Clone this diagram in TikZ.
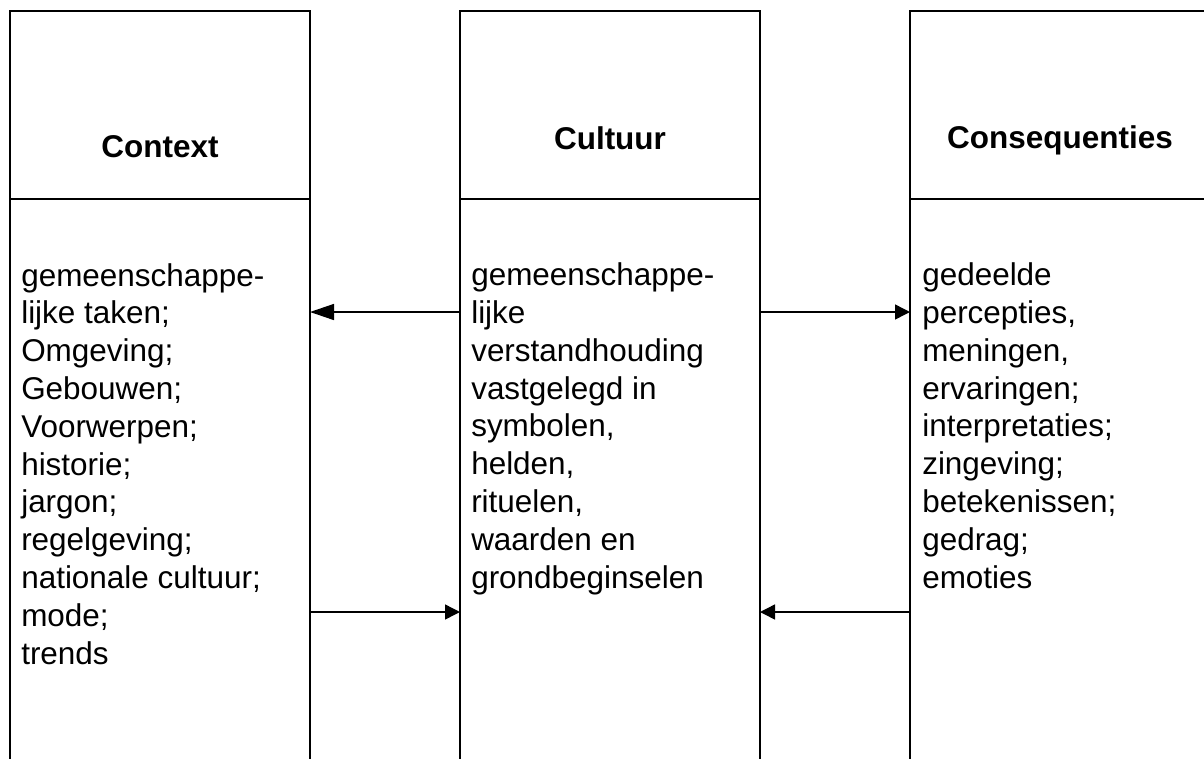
\documentclass[tikz,border=0pt]{standalone}
\usepackage{fontspec}
\setmainfont{Liberation Sans}
\usetikzlibrary{arrows.meta,positioning}
\tikzset{
  headbox/.style ={rectangle, draw, line width=1.1pt, minimum width=225pt,
                   minimum height=141pt, inner sep=0pt, outer sep=0pt},
  bodybox/.style ={rectangle, draw, line width=1.1pt, minimum width=225pt,
                   minimum height=450pt, inner sep=0pt, outer sep=0pt},
  coltitle/.style={font=\fontsize{23.6}{28.35}\selectfont\bfseries, anchor=base, inner sep=0pt},
  itemlist/.style={font=\fontsize{23.6}{28.35}\selectfont, align=left, anchor=base west,
                   inner sep=0pt},
  flow/.style    ={-{Triangle[length=11.25pt, width=11.25pt]}, line width=1.1pt},
  flowbig/.style ={-{Triangle[length=18pt, width=12pt]}, line width=1.1pt}
}

\begin{document}
\begin{tikzpicture}[x=0.75pt, y=-0.75pt]
\clip (0,0) rectangle (1204,758);
% column heads
\node[headbox, anchor=north west] (ctxhead) at (10,11) {};
\node[headbox, right=112.5pt of ctxhead] (culthead) {};
\node[headbox, right=112.5pt of culthead] (conshead) {};
% column bodies, open at the bottom
\foreach \col in {ctx,cult,cons}{
  \node[bodybox, anchor=north west] (\col body) at (\col head.south west) {};
}
\node[coltitle] (ctxtitle) at (160,157) {Context};
\node[coltitle] (culttitle) at (610,149) {Cultuur};
\node[coltitle] (constitle) at (1060,148) {Consequenties};
% lists, placed by the baseline of their last line
\node[itemlist] (ctxitems) at (21,664) {gemeenschappe-\\lijke taken;\\Omgeving;\\Gebouwen;\\Voorwerpen;\\historie;\\jargon;\\regelgeving;\\nationale cultuur;\\mode;\\trends};
\node[itemlist] (cultitems) at (471,588) {gemeenschappe-\\lijke\\verstandhouding\\vastgelegd in\\symbolen,\\helden,\\rituelen,\\waarden en\\grondbeginselen};
\node[itemlist] (consitems) at (922,588) {gedeelde\\percepties,\\meningen,\\ervaringen;\\interpretaties;\\zingeving;\\betekenissen;\\gedrag;\\emoties};
% connectors
\coordinate (upper) at (0,312);
\coordinate (lower) at (0,612);
\draw[flowbig] (cultbody.west |- upper) -- (ctxbody.east |- upper);
\draw[flow] (ctxbody.east |- lower) -- (cultbody.west |- lower);
\draw[flow] (cultbody.east |- upper) -- (consbody.west |- upper);
\draw[flow] (consbody.west |- lower) -- (cultbody.east |- lower);
\end{tikzpicture}
\end{document}
